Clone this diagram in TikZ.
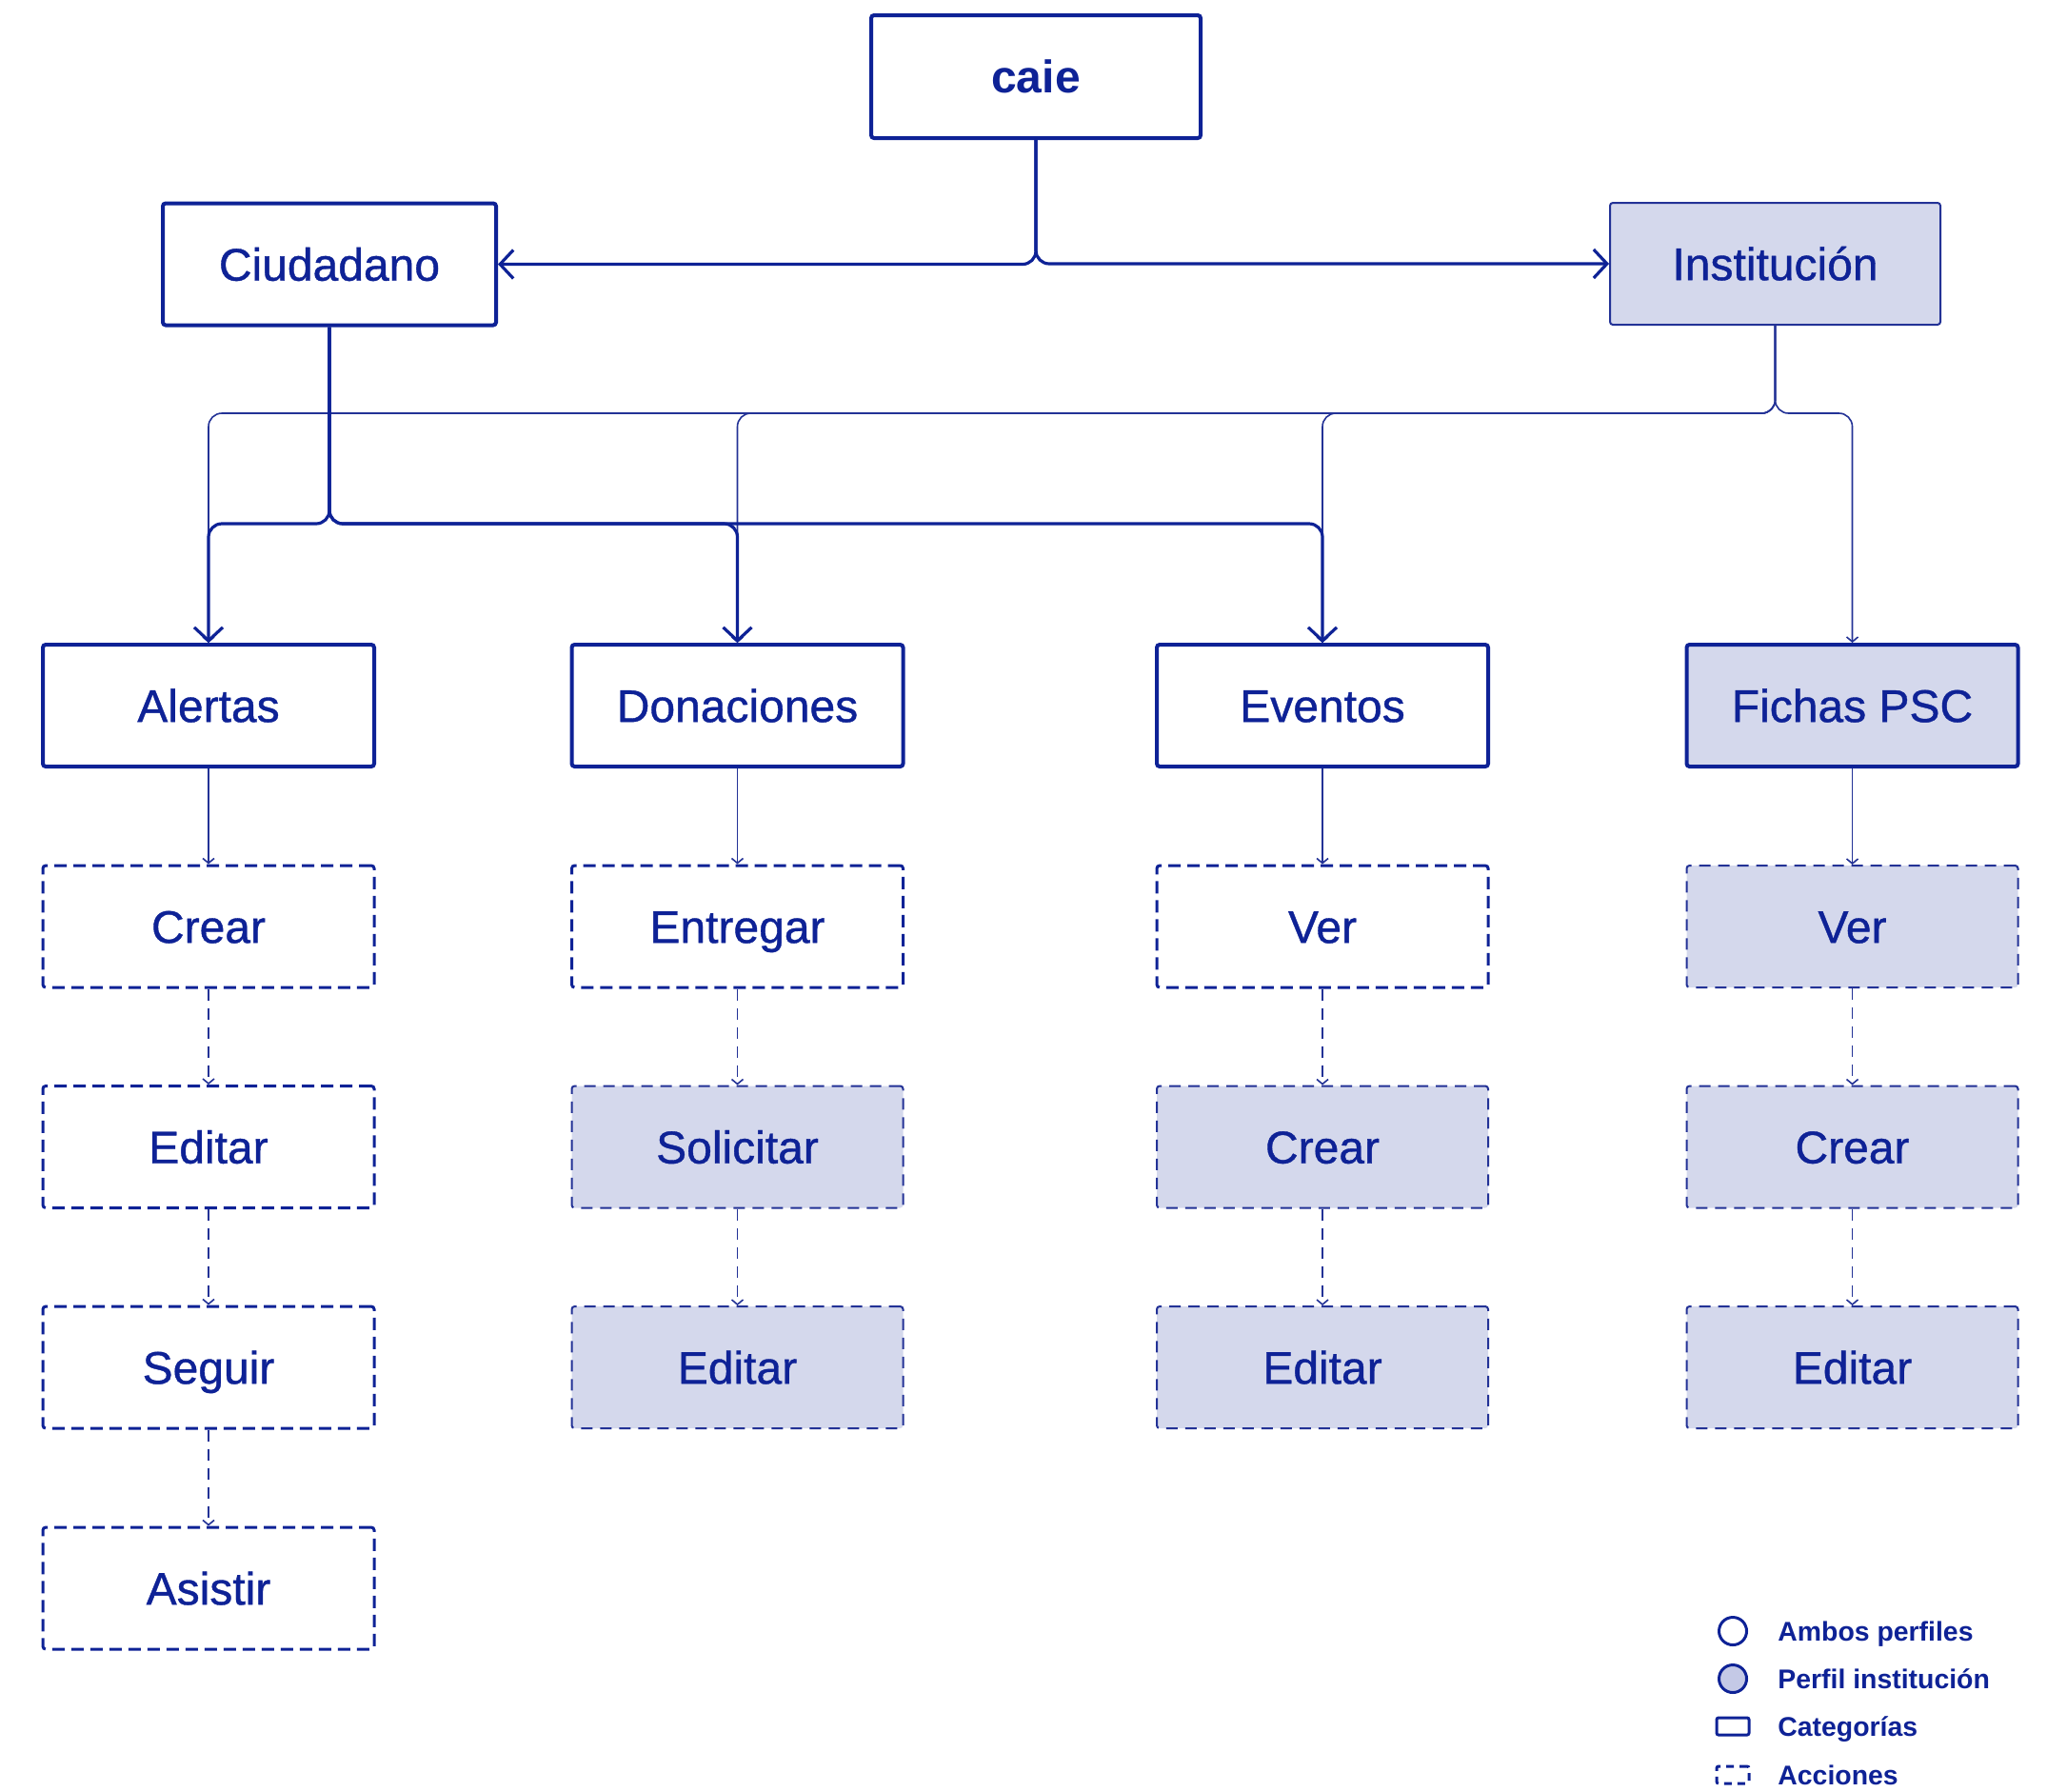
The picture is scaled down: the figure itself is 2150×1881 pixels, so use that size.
\documentclass[tikz,border=0pt]{standalone}
\usepackage{fontspec}
\setmainfont{Liberation Sans}
\newfontfamily\medfont{Liberation Sans}[FakeBold=0.8]
\usetikzlibrary{arrows.meta,calc}
\definecolor{navy}{RGB}{14,34,150}
\definecolor{lav}{RGB}{212,216,236}
\definecolor{lavdot}{RGB}{196,201,230}
\definecolor{thinblue}{RGB}{35,50,150}
\begin{document}
\begin{tikzpicture}[x=0.5pt,y=-0.5pt,
 base/.style={rectangle, rounded corners=1.5pt, minimum width=174pt, minimum height=64pt, inner sep=0pt, text=navy, font=\medfont\fontsize{24}{28}\selectfont, align=center, text height=17.2pt, text depth=0pt},
 cat/.style={base, draw=navy, line width=2pt, fill=white},
 catinst/.style={base, draw=thinblue, line width=1pt, fill=lav},
 act/.style={base, draw=navy, line width=1.5pt, dash pattern=on 6.5pt off 3.5pt, fill=white},
 actinst/.style={base, draw=thinblue, line width=1pt, dash pattern=on 6pt off 4pt, fill=lav},
 thickarr/.style={draw=navy, line width=1.6pt, rounded corners=7pt, -{Straight Barb[length=7pt,width=15pt,line width=1.6pt]}},
 thinarr/.style={draw=thinblue, line width=0.8pt, rounded corners=7pt, -{Straight Barb[length=2.5pt,width=6pt,line width=0.8pt]}},
 dasharr/.style={thinarr, dash pattern=on 6pt off 4pt},
 legtxt/.style={anchor=west, inner sep=0pt, text=navy, font=\bfseries\fontsize{14.2}{17}\selectfont, text height=10.3pt, text depth=0pt},
]
\useasboundingbox (0,0) rectangle (2150,1881);
\fill[white] (0,0) rectangle (2150,1881);

% top level
\node[cat, minimum width=173pt, minimum height=64.5pt, font=\bfseries\fontsize{24}{28}\selectfont] (caie) at (1088,80.5) {caie};
\node[cat, minimum width=175pt] (ciud) at (346,277.5) {Ciudadano};
\node[catinst, minimum width=173.5pt] (inst) at (1864.5,277) {Institución};

% categories
\node[cat] (al) at (219,741) {Alertas};
\node[cat] (don) at (774.5,741) {Donaciones};
\node[cat] (ev) at (1389,741) {Eventos};
\node[cat, fill=lav] (fi) at (1945.5,741) {Fichas PSC};

% actions column 1
\node[act] (a1) at (219,973) {Crear};
\node[act] (a2) at (219,1204.5) {Editar};
\node[act] (a3) at (219,1436) {Seguir};
\node[act] (a4) at (219,1668) {Asistir};
% column 2
\node[act] (d1) at (774.5,973) {Entregar};
\node[actinst] (d2) at (774.5,1204.5) {Solicitar};
\node[actinst] (d3) at (774.5,1436) {Editar};
% column 3
\node[act] (e1) at (1389,973) {Ver};
\node[actinst] (e2) at (1389,1204.5) {Crear};
\node[actinst] (e3) at (1389,1436) {Editar};
% column 4
\node[actinst] (f1) at (1945.5,973) {Ver};
\node[actinst] (f2) at (1945.5,1204.5) {Crear};
\node[actinst] (f3) at (1945.5,1436) {Editar};

\coordinate (cy) at (0,550);
\coordinate (iy) at (0,434);

% thin connectors from Institucion
\draw[thinarr] (inst.south) |- (al.north |- iy) -- (al.north);
\draw[thinarr] (inst.south) |- (don.north |- iy) -- (don.north);
\draw[thinarr] (inst.south) |- (ev.north |- iy) -- (ev.north);
\draw[thinarr] (inst.south) |- (fi.north |- iy) -- (fi.north);

% thick connectors
\draw[thickarr] (caie.south) |- (ciud.east);
\draw[thickarr] (caie.south) |- (inst.west);
\draw[thickarr] (ciud.south) |- (al.north |- cy) -- (al.north);
\draw[thickarr] (ciud.south) |- (don.north |- cy) -- (don.north);
\draw[thickarr] (ciud.south) |- (ev.north |- cy) -- (ev.north);

% column connectors
\draw[thinarr] (al.south) -- (a1.north);
\draw[dasharr] (a1.south) -- (a2.north);
\draw[dasharr] (a2.south) -- (a3.north);
\draw[dasharr] (a3.south) -- (a4.north);
\draw[thinarr] (don.south) -- (d1.north);
\draw[dasharr] (d1.south) -- (d2.north);
\draw[dasharr] (d2.south) -- (d3.north);
\draw[thinarr] (ev.south) -- (e1.north);
\draw[dasharr] (e1.south) -- (e2.north);
\draw[dasharr] (e2.south) -- (e3.north);
\draw[thinarr] (fi.south) -- (f1.north);
\draw[dasharr] (f1.south) -- (f2.north);
\draw[dasharr] (f2.south) -- (f3.north);

% legend
\node[circle, draw=navy, line width=1.5pt, minimum size=14.5pt, inner sep=0pt] (l1) at (1820,1713) {};
\node[circle, draw=navy, fill=lavdot, line width=1.5pt, minimum size=14.5pt, inner sep=0pt] (l2) at (1820,1763) {};
\node[rectangle, draw=navy, rounded corners=1pt, line width=1.5pt, minimum width=17pt, minimum height=9pt, inner sep=0pt] (l3) at (1820,1813) {};
\node[rectangle, draw=navy, rounded corners=1pt, line width=1.5pt, dash pattern=on 4pt off 3pt, minimum width=17pt, minimum height=9pt, inner sep=0pt] (l4) at (1820,1864) {};
\node[legtxt] (t1) at (1867,1713) {Ambos perfiles};
\node[legtxt] (t2) at (1867,1763) {Perfil institución};
\node[legtxt] (t3) at (1867,1813) {Categorías};
\node[legtxt] (t4) at (1867,1864) {Acciones};
\end{tikzpicture}
\end{document}
